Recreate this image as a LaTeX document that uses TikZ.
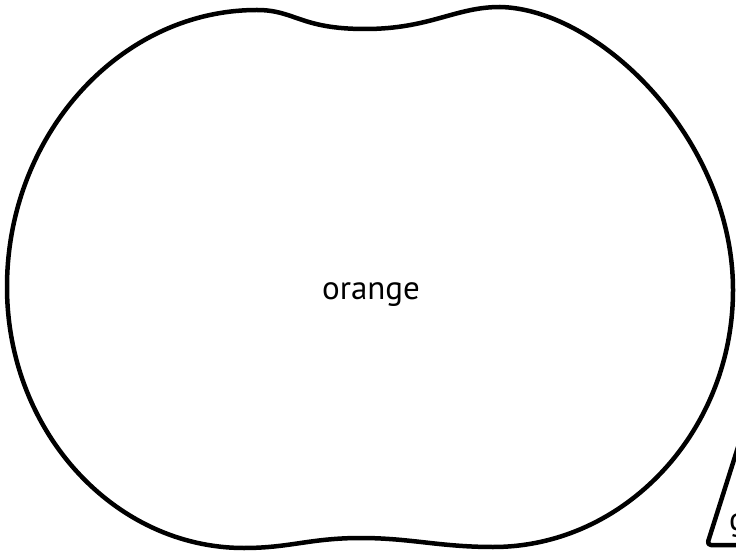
\documentclass[tikz,border=0pt]{standalone}
\usepackage{fontspec}
\setmainfont{PT Sans}
\begin{document}
\begin{tikzpicture}[x=1pt,y=-1pt,
blob/.style={draw,line width=4.5pt,line join=round},
lbl/.style={font=\fontsize{33}{40}\selectfont,inner sep=0pt}]
\useasboundingbox (0,0) rectangle (736,553);
% orange region
\draw[blob] (257,10) .. controls (295,10) and (300,29) .. (365,29)
  .. controls (430,29) and (455,7) .. (500,7)
  .. controls (600,9) and (733,140) .. (733,290)
  .. controls (733,431) and (625,547) .. (493,547)
  .. controls (440,547) and (410,538) .. (361,538)
  .. controls (310,538) and (290,548) .. (244,548)
  .. controls (114,548) and (7,431) .. (7,287)
  .. controls (7,135) and (120,10) .. cycle;
\node[lbl,anchor=base] (orange) at (371,300) {orange};
% neighbouring region, cut by the page edge
\coordinate (gtop) at (745,425);
\coordinate (gend) at (790,545);
\draw[blob,rounded corners=4pt] (gtop) -- (707,545) -- (gend);
\node[lbl,anchor=base west] (g) at (729,530) {g};
\end{tikzpicture}
\end{document}
